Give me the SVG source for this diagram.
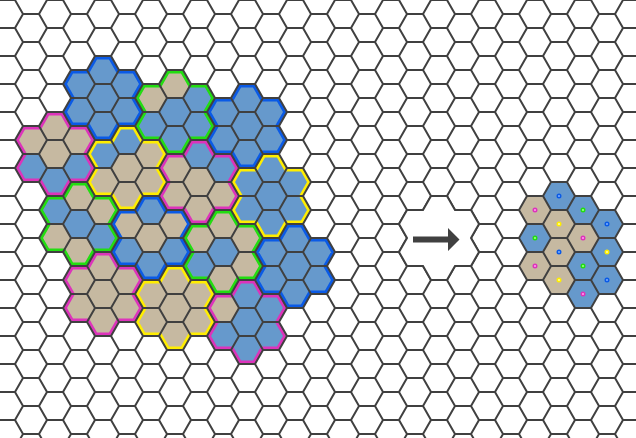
<svg xmlns="http://www.w3.org/2000/svg" width="636" height="438" viewBox="0 0 636 438">
<defs>
<style>
.b{fill:#6699cc}
.t{fill:#c6b9a1}
.o{fill:none;stroke-width:7;clip-path:url(#fc)}
.ob{stroke:#0a5ae6}
.og{stroke:#22dd11}
.om{stroke:#dd33bb}
.oy{stroke:#ffee00}
.d{stroke-width:1.4}
.db{fill:#77aaff;stroke:#0a5ae6}
.dg{fill:#99ff88;stroke:#22dd11}
.dm{fill:#ff99ee;stroke:#dd33bb}
.dy{fill:#ffff99;stroke:#ffee00}
</style>
<polygon id="h" points="16,0 8,14 -8,14 -16,0 -8,-14 8,-14"/>
<path id="fl" d="M-8,-42 L8,-42 16,-28 32,-28 40,-14 32,0 40,14 32,28 16,28 8,42 -8,42 -16,28 -32,28 -40,14 -32,0 -40,-14 -32,-28 -16,-28Z"/>
<clipPath id="fc"><use href="#fl"/></clipPath>
<pattern id="grid" patternUnits="userSpaceOnUse" x="-9" y="0" width="48" height="28">
<path d="M8,0H24L32,14L24,28H8L0,14Z M32,14H48 M48,14L56,0 M48,14L56,28 M-16,14H0" fill="none" stroke="#404040" stroke-width="2"/>
</pattern>
</defs>
<rect width="636" height="438" fill="#fff"/>

<g id="blue1" transform="translate(103,98)">
<use href="#h" class="b"/><use href="#h" class="b" x="0" y="-28"/><use href="#h" class="b" x="0" y="28"/><use href="#h" class="b" x="24" y="-14"/><use href="#h" class="b" x="24" y="14"/><use href="#h" class="b" x="-24" y="-14"/><use href="#h" class="b" x="-24" y="14"/>
<use href="#fl" class="o ob"/>
</g>
<g id="green1" transform="translate(175,112)">
<use href="#h" class="b"/><use href="#h" class="t" x="0" y="-28"/><use href="#h" class="b" x="0" y="28"/><use href="#h" class="b" x="24" y="-14"/><use href="#h" class="b" x="24" y="14"/><use href="#h" class="t" x="-24" y="-14"/><use href="#h" class="b" x="-24" y="14"/>
<use href="#fl" class="o og"/>
</g>
<g id="blue2" transform="translate(247,126)">
<use href="#h" class="b"/><use href="#h" class="b" x="0" y="-28"/><use href="#h" class="b" x="0" y="28"/><use href="#h" class="b" x="24" y="-14"/><use href="#h" class="b" x="24" y="14"/><use href="#h" class="b" x="-24" y="-14"/><use href="#h" class="b" x="-24" y="14"/>
<use href="#fl" class="o ob"/>
</g>
<g id="magenta1" transform="translate(55,154)">
<use href="#h" class="t"/><use href="#h" class="t" x="0" y="-28"/><use href="#h" class="b" x="0" y="28"/><use href="#h" class="t" x="24" y="-14"/><use href="#h" class="b" x="24" y="14"/><use href="#h" class="t" x="-24" y="-14"/><use href="#h" class="b" x="-24" y="14"/>
<use href="#fl" class="o om"/>
</g>
<g id="yellow1" transform="translate(127,168)">
<use href="#h" class="t"/><use href="#h" class="b" x="0" y="-28"/><use href="#h" class="t" x="0" y="28"/><use href="#h" class="t" x="24" y="-14"/><use href="#h" class="t" x="24" y="14"/><use href="#h" class="b" x="-24" y="-14"/><use href="#h" class="t" x="-24" y="14"/>
<use href="#fl" class="o oy"/>
</g>
<g id="magenta2" transform="translate(199,182)">
<use href="#h" class="t"/><use href="#h" class="b" x="0" y="-28"/><use href="#h" class="t" x="0" y="28"/><use href="#h" class="b" x="24" y="-14"/><use href="#h" class="t" x="24" y="14"/><use href="#h" class="t" x="-24" y="-14"/><use href="#h" class="t" x="-24" y="14"/>
<use href="#fl" class="o om"/>
</g>
<g id="yellow2" transform="translate(271,196)">
<use href="#h" class="b"/><use href="#h" class="b" x="0" y="-28"/><use href="#h" class="b" x="0" y="28"/><use href="#h" class="b" x="24" y="-14"/><use href="#h" class="b" x="24" y="14"/><use href="#h" class="b" x="-24" y="-14"/><use href="#h" class="b" x="-24" y="14"/>
<use href="#fl" class="o oy"/>
</g>
<g id="green2" transform="translate(79,224)">
<use href="#h" class="b"/><use href="#h" class="t" x="0" y="-28"/><use href="#h" class="t" x="0" y="28"/><use href="#h" class="t" x="24" y="-14"/><use href="#h" class="b" x="24" y="14"/><use href="#h" class="b" x="-24" y="-14"/><use href="#h" class="t" x="-24" y="14"/>
<use href="#fl" class="o og"/>
</g>
<g id="blue3" transform="translate(151,238)">
<use href="#h" class="t"/><use href="#h" class="b" x="0" y="-28"/><use href="#h" class="b" x="0" y="28"/><use href="#h" class="t" x="24" y="-14"/><use href="#h" class="b" x="24" y="14"/><use href="#h" class="t" x="-24" y="-14"/><use href="#h" class="b" x="-24" y="14"/>
<use href="#fl" class="o ob"/>
</g>
<g id="green3" transform="translate(223,252)">
<use href="#h" class="b"/><use href="#h" class="t" x="0" y="-28"/><use href="#h" class="t" x="0" y="28"/><use href="#h" class="t" x="24" y="-14"/><use href="#h" class="t" x="24" y="14"/><use href="#h" class="t" x="-24" y="-14"/><use href="#h" class="b" x="-24" y="14"/>
<use href="#fl" class="o og"/>
</g>
<g id="blue4" transform="translate(295,266)">
<use href="#h" class="b"/><use href="#h" class="b" x="0" y="-28"/><use href="#h" class="b" x="0" y="28"/><use href="#h" class="b" x="24" y="-14"/><use href="#h" class="b" x="24" y="14"/><use href="#h" class="b" x="-24" y="-14"/><use href="#h" class="b" x="-24" y="14"/>
<use href="#fl" class="o ob"/>
</g>
<g id="magenta3" transform="translate(103,294)">
<use href="#h" class="t"/><use href="#h" class="t" x="0" y="-28"/><use href="#h" class="t" x="0" y="28"/><use href="#h" class="t" x="24" y="-14"/><use href="#h" class="t" x="24" y="14"/><use href="#h" class="t" x="-24" y="-14"/><use href="#h" class="t" x="-24" y="14"/>
<use href="#fl" class="o om"/>
</g>
<g id="yellow3" transform="translate(175,308)">
<use href="#h" class="t"/><use href="#h" class="t" x="0" y="-28"/><use href="#h" class="t" x="0" y="28"/><use href="#h" class="t" x="24" y="-14"/><use href="#h" class="t" x="24" y="14"/><use href="#h" class="t" x="-24" y="-14"/><use href="#h" class="t" x="-24" y="14"/>
<use href="#fl" class="o oy"/>
</g>
<g id="magenta4" transform="translate(247,322)">
<use href="#h" class="b"/><use href="#h" class="b" x="0" y="-28"/><use href="#h" class="b" x="0" y="28"/><use href="#h" class="b" x="24" y="-14"/><use href="#h" class="b" x="24" y="14"/><use href="#h" class="t" x="-24" y="-14"/><use href="#h" class="b" x="-24" y="14"/>
<use href="#fl" class="o om"/>
</g>

<g id="summary">
<use href="#h" class="b" x="559" y="196"/>
<use href="#h" class="t" x="535" y="210"/>
<use href="#h" class="b" x="583" y="210"/>
<use href="#h" class="t" x="559" y="224"/>
<use href="#h" class="b" x="607" y="224"/>
<use href="#h" class="b" x="535" y="238"/>
<use href="#h" class="t" x="583" y="238"/>
<use href="#h" class="t" x="559" y="252"/>
<use href="#h" class="b" x="607" y="252"/>
<use href="#h" class="t" x="535" y="266"/>
<use href="#h" class="b" x="583" y="266"/>
<use href="#h" class="t" x="559" y="280"/>
<use href="#h" class="b" x="607" y="280"/>
<use href="#h" class="b" x="583" y="294"/>
</g>

<rect id="hexgrid" width="636" height="438" fill="url(#grid)"/>

<g id="summary-dots" class="d">
<circle class="db" cx="559" cy="196" r="1.8"/>
<circle class="dm" cx="535" cy="210" r="1.8"/>
<circle class="dg" cx="583" cy="210" r="1.8"/>
<circle class="dy" cx="559" cy="224" r="1.8"/>
<circle class="db" cx="607" cy="224" r="1.8"/>
<circle class="dg" cx="535" cy="238" r="1.8"/>
<circle class="dm" cx="583" cy="238" r="1.8"/>
<circle class="db" cx="559" cy="252" r="1.8"/>
<circle class="dy" cx="607" cy="252" r="1.8"/>
<circle class="dm" cx="535" cy="266" r="1.8"/>
<circle class="dg" cx="583" cy="266" r="1.8"/>
<circle class="dy" cx="559" cy="280" r="1.8"/>
<circle class="db" cx="607" cy="280" r="1.8"/>
<circle class="dm" cx="583" cy="294" r="1.8"/>
</g>

<g id="connectors">
<use href="#fl" x="439" y="238" fill="#fff" stroke="#404040" stroke-width="2"/>
<path d="M413,236.5H448V228L459.5,239.5L448,251V242.5H413Z" fill="#404040"/>
</g>
</svg>
